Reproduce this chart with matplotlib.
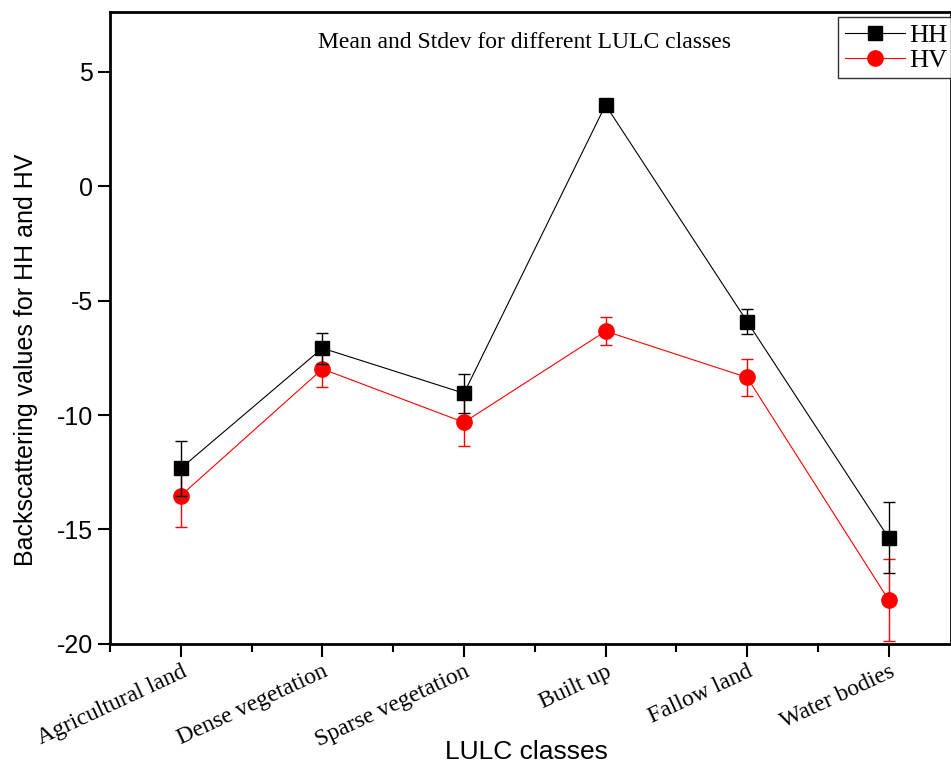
import numpy as np
import matplotlib.pyplot as plt
from matplotlib.lines import Line2D

classes = ["Agricultural land", "Dense vegetation", "Sparse vegetation",
           "Built up", "Fallow land", "Water bodies"]
hh_mean = [-12.33, -7.08, -9.05, 3.54, -5.92, -15.37]
hh_std = [1.2, 0.68, 0.85, 0.15, 0.55, 1.55]
hv_mean = [-13.52, -7.99, -10.32, -6.34, -8.36, -18.08]
hv_std = [1.38, 0.8, 1.05, 0.62, 0.82, 1.8]

serif = "Liberation Serif"
sans = "Liberation Sans"

fig = plt.figure(figsize=(9.51, 7.66), dpi=100)
ax = fig.add_axes([0.1157, 0.1593, 0.8843, 0.825])

x = np.arange(1, len(classes) + 1)
ax.errorbar(x, hh_mean, yerr=hh_std, color="black", lw=0.8, marker="s",
            ms=10, capsize=4.5, elinewidth=1, capthick=1, zorder=3)
ax.errorbar(x, hv_mean, yerr=hv_std, color="red", lw=0.8, marker="o",
            ms=11, capsize=4.5, elinewidth=1, capthick=1, zorder=2)

ax.set_xlim(0.5, 6.44)
ax.set_ylim(-20, 7.6)
ax.set_xticks(x)
ax.set_xticks(x - 0.5, minor=True)
ax.set_xticklabels(classes, rotation=25, ha="right", rotation_mode="anchor",
                   fontfamily=serif, fontsize=17)
ax.set_yticks([-20, -15, -10, -5, 0, 5])
ax.set_yticklabels(["-20", "-15", "-10", "-5", "0", "5"], fontfamily=sans, fontsize=18)
ax.tick_params(axis="both", which="major", direction="out", length=9, width=1.5)
ax.tick_params(axis="x", which="minor", direction="out", length=6, width=1.5)
ax.tick_params(axis="y", which="minor", length=0)
for s in ax.spines.values():
    s.set_linewidth(2)

ax.set_xlabel("LULC classes", fontfamily=sans, fontsize=19)
ax.xaxis.set_label_coords(0.495, -0.171)
ax.xaxis.label.set_va("center")
ax.set_ylabel("Backscattering values for HH and HV", fontfamily=sans, fontsize=18)
ax.yaxis.set_label_coords(-0.1, 0.45)
ax.yaxis.label.set_va("center")
ax.text(0.493, 0.951, "Mean and Stdev for different LULC classes", transform=ax.transAxes,
        ha="center", va="center", fontfamily=serif, fontsize=17)

handles = [Line2D([], [], color="black", lw=0.8, marker="s", ms=10),
           Line2D([], [], color="red", lw=0.8, marker="o", ms=11)]
leg = fig.legend(handles, ["HH", "HV"], loc="upper left",
                 bbox_to_anchor=(838 / 951, 1 - 17 / 766),
                 prop={"family": serif, "size": 19}, frameon=True, fancybox=False,
                 edgecolor="black", handlelength=2.3, borderpad=0.25, labelspacing=0.05,
                 handletextpad=0.15, borderaxespad=0)
leg.get_frame().set_linewidth(1)

fig.savefig("out.png", dpi=100)
